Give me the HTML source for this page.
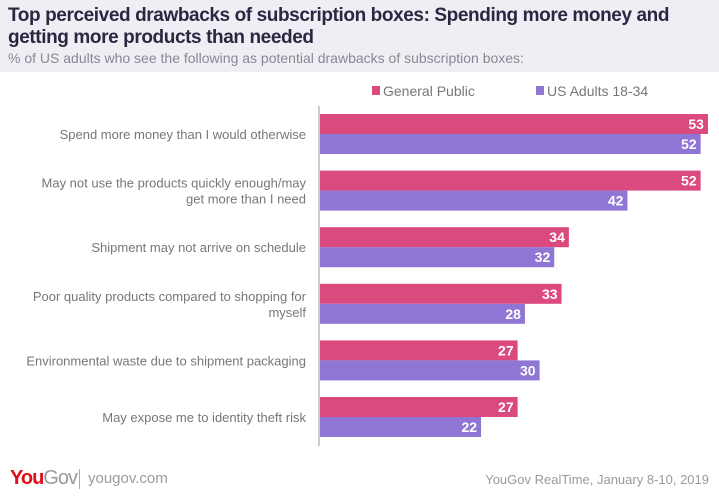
<!DOCTYPE html>
<html><head><meta charset="utf-8">
<style>
body{margin:0;width:719px;height:500px;background:#fff;font-family:"Liberation Sans",sans-serif;overflow:hidden;position:relative}
#hdr{position:absolute;left:0;top:0;width:719px;height:72px;background:#efeef5}
.t{position:absolute;left:8px;font-weight:bold;font-size:19px;color:#2c2640;letter-spacing:-0.4px}
</style></head><body>
<div id="hdr"></div>
<div class="t" style="top:5px">Top perceived drawbacks of subscription boxes: Spending more money and</div>
<div class="t" style="top:27px">getting more products than needed</div>
<div style="position:absolute;left:8px;top:50px;font-size:14px;color:#8a8790">% of US adults who see the following as potential drawbacks of subscription boxes:</div>
<svg id="c" width="719" height="500" style="position:absolute;left:0;top:0"></svg>
<div style="position:absolute;left:10px;top:467px;font-size:20px;font-weight:bold;color:#e20d18;letter-spacing:-1px">You<span style="color:#9a9a9a;font-weight:normal">Gov</span></div>
<div style="position:absolute;left:79px;top:469px;width:1px;height:20px;background:#aaa"></div>
<div style="position:absolute;left:88px;top:470px;font-size:15px;color:#9a9a9a">yougov.com</div>
<div style="position:absolute;right:10px;top:472px;font-size:13px;color:#9a9a9a">YouGov RealTime, January 8-10, 2019</div>
<script>
const categories=[["Spend more money than I would otherwise"],["May not use the products quickly enough/may","get more than I need"],["Shipment may not arrive on schedule"],["Poor quality products compared to shopping for","myself"],["Environmental waste due to shipment packaging"],["May expose me to identity theft risk"]];
const generalPublic=[53,52,34,33,27,27];
const adults1834=[52,42,32,28,30,22];
const seriesNames=["General Public","US Adults 18-34"];
const colors=["#db4a7e","#8f76d4"];
const svg=document.getElementById('c');
const NS="http://www.w3.org/2000/svg";
const x0=320,scale=7.32,y0=114,step=56.6,bh=20;
const xs=v=>v*scale;
function mk(t,a){const e=document.createElementNS(NS,t);for(const k in a)e.setAttribute(k,a[k]);svg.appendChild(e);return e;}
const ax=mk('line',{x1:319,x2:319,y1:106,y2:446,stroke:'#ccc','stroke-width':2});


// legend
const lx=[372,536];
seriesNames.forEach((n,i)=>{
 const r=mk('rect',{x:lx[i],y:86,width:8,height:9,fill:colors[i]});
 
 
 const t=mk('text',{x:lx[i]+11,y:96,'font-size':14,fill:'#777'});t.textContent=n;
 
 
});
categories.forEach((lines,i)=>{
 const gy=y0+i*step;
 [generalPublic[i],adults1834[i]].forEach((v,j)=>{
  const y=gy+j*bh;
  const r=mk('rect',{x:x0,y:y,width:xs(v),height:bh,fill:colors[j]});
  
  
  const t=mk('text',{x:x0+xs(v)-4,y:y+15,'font-size':14,'font-weight':'bold',fill:'#fff','text-anchor':'end'});t.textContent=v;
  
  
 });
 const n=lines.length,cy=gy+bh;
 lines.forEach((s,k)=>{
  const t=mk('text',{x:306,y:cy+5+(k-(n-1)/2)*16,'font-size':13,fill:'#777','text-anchor':'end'});t.textContent=s;
  
  
 });
});
</script>
</body></html>
